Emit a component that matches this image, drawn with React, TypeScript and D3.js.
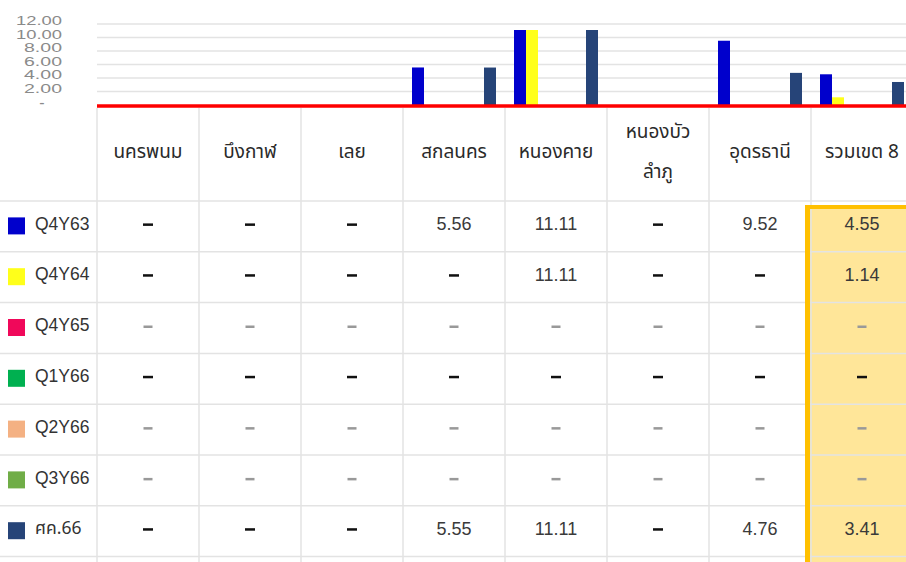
import React from "react";
import * as d3 from "d3";

const categories = ["นครพนม", "บึงกาฬ", "เลย", "สกลนคร", "หนองคาย", "หนองบัวลำภู", "อุดรธานี", "รวมเขต 8"];
const headerLines = [["นครพนม"], ["บึงกาฬ"], ["เลย"], ["สกลนคร"], ["หนองคาย"], ["หนองบัว", "ลำภู"], ["อุดรธานี"], ["รวมเขต 8"]];
const seriesNames = ["Q4Y63", "Q4Y64", "Q4Y65", "Q1Y66", "Q2Y66", "Q3Y66", "ศค.66"];
const seriesColors = ["#0000CC", "#FFFF1A", "#F0085A", "#00B050", "#F4B183", "#70AD47", "#264478"];
const dashDark = [true, true, false, true, false, false, true];
const values: (number | null)[][] = [
  [null, null, null, 5.56, 11.11, null, 9.52, 4.55],
  [null, null, null, null, 11.11, null, null, 1.14],
  [null, null, null, null, null, null, null, null],
  [null, null, null, null, null, null, null, null],
  [null, null, null, null, null, null, null, null],
  [null, null, null, null, null, null, null, null],
  [null, null, null, 5.55, 11.11, null, 4.76, 3.41],
];
const yTicks = [2, 4, 6, 8, 10, 12];

const W = 906;
const H = 562;
const plotLeft = 97;
const colW = 102;
const baseY = 105;
const topY = 24;
const headerTop = 108;
const headerBottom = 201;
const rowH = 50.8;

export default function App() {
  const x = d3.scaleBand<string>().domain(categories).range([plotLeft, plotLeft + colW * categories.length]).paddingInner(0);
  const xs = d3.scaleBand<string>().domain(seriesNames).range([9, colW - 9]).paddingInner(0);
  const y = d3.scaleLinear().domain([0, 12]).range([baseY, topY]);
  const lineColor = "#e3e3e3";
  const thaiFont = "Tahoma, 'Noto Sans Thai', 'Noto Sans', 'DejaVu Sans', sans-serif";
  const latin = "'Liberation Sans', Arial, sans-serif";
  const lastX = x(categories[categories.length - 1])!;
  const rowTop = (i: number) => headerBottom + i * rowH;

  return (
    <svg width={W} height={H} style={{ position: "absolute", left: 0, top: 0, background: "#fff" }}>
      {/* gridlines */}
      {yTicks.map((t) => (
        <line key={t} x1={plotLeft} x2={W} y1={y(t)} y2={y(t)} stroke={lineColor} strokeWidth={1.5} />
      ))}
      {/* y labels */}
      {yTicks.map((t) => (
        <text key={t} x={62} y={y(t) + 1} textAnchor="end" fontFamily={latin} fontSize={13} fill="#8a8a8a"
          textLength={t >= 10 ? 46 : 38} lengthAdjust="spacingAndGlyphs">
          {d3.format(".2f")(t)}
        </text>
      ))}
      <text x={42} y={y(0) + 3} textAnchor="middle" fontFamily={latin} fontSize={16} fill="#8a8a8a">-</text>

      {/* highlight column */}
      <rect x={lastX - 4} y={205} width={W - lastX + 4} height={H - 205} fill="#FFE699" />

      {/* table lines */}
      {d3.range(categories.length + 1).map((i) => (
        <line key={"v" + i} x1={plotLeft + i * colW} x2={plotLeft + i * colW} y1={headerTop} y2={H}
          stroke={lineColor} strokeWidth={1.5} />
      ))}
      {d3.range(seriesNames.length + 1).map((i) => (
        <line key={"h" + i} x1={0} x2={W} y1={rowTop(i)} y2={rowTop(i)} stroke={lineColor} strokeWidth={1.5} />
      ))}

      {/* highlight border */}
      <rect x={lastX - 6} y={205} width={5} height={H - 205} fill="#FFC000" />
      <rect x={lastX - 6} y={205} width={W - lastX + 6} height={4} fill="#FFC000" />

      {/* bars */}
      {values.map((row, si) =>
        row.map((v, ci) =>
          v == null ? null : (
            <rect key={si + "-" + ci} x={x(categories[ci])! + xs(seriesNames[si])!} y={y(v)}
              width={xs.bandwidth()} height={y(0) - y(v)} fill={seriesColors[si]} />
          )
        )
      )}

      {/* baseline */}
      <line x1={plotLeft} x2={W} y1={baseY + 1} y2={baseY + 1} stroke="#FF0000" strokeWidth={3.5} />

      {/* headers */}
      {headerLines.map((lines, ci) => {
        const cx = x(categories[ci])! + colW / 2;
        const mid = 151;
        return lines.map((ln, li) => (
          <text key={ci + "-" + li} x={cx} y={mid + (li - (lines.length - 1) / 2) * 40} dy="0.35em"
            textAnchor="middle" fontFamily={thaiFont} fontSize={19} fontWeight={400} fill="#2a2a2a">
            {ln}
          </text>
        ));
      })}

      {/* legend + cells */}
      {seriesNames.map((s, si) => {
        const cy = rowTop(si) + rowH / 2;
        return (
          <g key={s}>
            <rect x={8} y={cy - 9} width={17} height={17} fill={seriesColors[si]} />
            <text x={35} y={cy - 3} dy="0.35em" fontFamily={si === 6 ? thaiFont : latin} fontSize={17.5} fill="#333">{s}</text>
            {values[si].map((v, ci) => {
              const cx = x(categories[ci])! + colW / 2;
              if (v != null)
                return (
                  <text key={ci} x={cx} y={cy - 3} dy="0.35em" textAnchor="middle" fontFamily={latin} fontSize={18} fill="#3a3a3a">
                    {d3.format(".2f")(v)}
                  </text>
                );
              return dashDark[si] ? (
                <rect key={ci} x={cx - 5} y={cy - 3} width={10} height={2.5} fill="#111" />
              ) : (
                <rect key={ci} x={cx - 4.5} y={cy - 2.5} width={9} height={2.5} fill="#999" />
              );
            })}
          </g>
        );
      })}
    </svg>
  );
}
